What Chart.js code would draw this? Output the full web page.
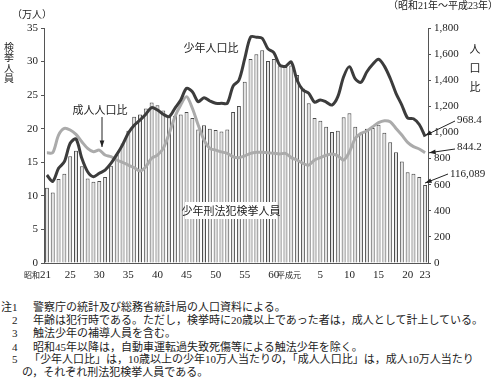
<!DOCTYPE html>
<html>
<head>
<meta charset="utf-8">
<script src="https://cdn.jsdelivr.net/npm/chart.js@4"></script>
<style>
  body { margin: 0; background: #fff; }
  #wrap { position: relative; width: 500px; height: 380px; }
  #chart { position: absolute; left: 0; top: 0; }
  .note { position: absolute; font: 11px "Liberation Serif", "Noto Sans CJK JP", serif; color: #222; white-space: nowrap; line-height: 14px; }
</style>
</head>
<body>
<div id="wrap">
  <canvas id="chart" width="500" height="290"></canvas>
  <div class="note" style="left:1px;top:300px">注1</div>
  <div class="note" style="left:33px;top:300px">警察庁の統計及び総務省統計局の人口資料による。</div>
  <div class="note" style="left:12px;top:313px">2</div>
  <div class="note" style="left:33px;top:313px">年齢は犯行時である。ただし，検挙時に20歳以上であった者は，成人として計上している。</div>
  <div class="note" style="left:12px;top:326px">3</div>
  <div class="note" style="left:33px;top:326px">触法少年の補導人員を含む。</div>
  <div class="note" style="left:12px;top:340px">4</div>
  <div class="note" style="left:33px;top:340px">昭和45年以降は，自動車運転過失致死傷等による触法少年を除く。</div>
  <div class="note" style="left:12px;top:352px">5</div>
  <div class="note" style="left:29px;top:352px">「少年人口比」は，10歳以上の少年10万人当たりの，「成人人口比」は，成人10万人当たり</div>
  <div class="note" style="left:22px;top:365px">の，それぞれ刑法犯検挙人員である。</div>
</div>
<script>
// 昭和21年～平成23年
const categories = [
  'S21','S22','S23','S24','S25','S26','S27','S28','S29','S30',
  'S31','S32','S33','S34','S35','S36','S37','S38','S39','S40',
  'S41','S42','S43','S44','S45','S46','S47','S48','S49','S50',
  'S51','S52','S53','S54','S55','S56','S57','S58','S59','S60',
  'S61','S62','S63','H1','H2','H3','H4','H5','H6','H7',
  'H8','H9','H10','H11','H12','H13','H14','H15','H16','H17',
  'H18','H19','H20','H21','H22','H23'
];

// 少年刑法犯検挙人員（万人）
const arrests = [
  11.2, 10.5, 12.5, 13.3, 15.9, 16.7, 14.4, 12.6, 12.1, 12.2,
  12.8, 14.5, 16.2, 17.8, 19.7, 21.8, 22.1, 23.0, 23.9, 23.5,
  22.7, 21.9, 21.9, 22.1, 22.5, 21.6, 19.9, 20.5, 20.0, 19.8,
  19.6, 19.9, 22.5, 23.4, 27.0, 30.4, 31.1, 31.7, 30.1, 30.4,
  29.3, 29.2, 29.4, 28.0, 26.0, 23.8, 21.6, 21.2, 20.3, 19.5,
  19.7, 21.7, 22.3, 20.3, 19.4, 20.0, 20.1, 20.6, 19.4, 18.0,
  16.5, 15.1, 13.5, 13.3, 12.8, 11.6089
];

// 少年人口比
const juvenileRate = [
  674, 625, 725, 776, 917, 950, 802, 699, 661, 687,
  712, 763, 830, 905, 995, 1055, 1095, 1140, 1190, 1172,
  1139, 1121, 1185, 1248, 1338, 1312, 1236, 1266, 1241, 1223,
  1223, 1223, 1355, 1400, 1565, 1730, 1730, 1722, 1640, 1612,
  1517, 1506, 1540, 1400, 1325, 1300, 1232, 1249, 1233, 1210,
  1274, 1427, 1504, 1411, 1384, 1465, 1522, 1561, 1508, 1415,
  1300, 1210, 1111, 1105, 1061, 968.4
];

// 成人人口比
const adultRate = [
  845, 845, 980, 1031, 1019, 985, 929, 878, 852, 865,
  827, 814, 789, 771, 750, 730, 705, 738, 802, 827,
  878, 990, 1120, 1210, 1274, 1185, 1057, 942, 878, 865,
  851, 840, 814, 807, 820, 840, 848, 848, 845, 840,
  835, 840, 807, 789, 763, 750, 789, 807, 825, 835,
  820, 789, 852, 955, 993, 1011, 1044, 1075, 1090, 1082,
  1031, 980, 924, 891, 873, 844.2
];

const tickCats = ['S21','S25','S30','S35','S40','S45','S50','S55','S60','H1','H5','H10','H15','H20','H23'];
const tickTexts = ['昭和21','25','30','35','40','45','50','55','60','平成元','5','10','15','20','23'];

const SERIF = '"Liberation Serif", "Noto Sans CJK JP", serif';
const JP = '"Noto Sans CJK JP", sans-serif';

function arrow(ctx, x1, y1, x2, y2) {
  ctx.beginPath();
  ctx.moveTo(x1, y1);
  ctx.lineTo(x2, y2);
  ctx.stroke();
  const a = Math.atan2(y2 - y1, x2 - x1);
  ctx.beginPath();
  ctx.moveTo(x2, y2);
  ctx.lineTo(x2 - 7 * Math.cos(a - 0.35), y2 - 7 * Math.sin(a - 0.35));
  ctx.lineTo(x2 - 7 * Math.cos(a + 0.35), y2 - 7 * Math.sin(a + 0.35));
  ctx.closePath();
  ctx.fill();
}

const labelsPlugin = {
  id: 'labels',
  afterDraw(chart) {
    const ctx = chart.ctx;
    const xs = chart.scales.x, y = chart.scales.y, y2 = chart.scales.y2;
    ctx.save();
    ctx.fillStyle = '#222';
    ctx.strokeStyle = '#222';
    ctx.lineWidth = 1;
    ctx.textBaseline = 'middle';

    // x tick labels (era names drawn smaller, as in the source)
    tickCats.forEach((c, k) => {
      const px = xs.getPixelForValue(categories.indexOf(c));
      const t = tickTexts[k];
      if (t === '昭和21') {
        ctx.font = '11px ' + SERIF;
        ctx.textAlign = 'right';
        ctx.fillText('21', px + 4, 275);
        const w = ctx.measureText('21').width;
        ctx.font = '8px ' + JP;
        ctx.fillText('昭和', px + 4 - w, 275);
      } else if (t === '平成元') {
        ctx.font = '8px ' + JP;
        ctx.textAlign = 'center';
        ctx.fillText(t, px - 8, 275);
      } else {
        ctx.font = '11px ' + SERIF;
        ctx.textAlign = 'center';
        ctx.fillText(t, px, 275);
      }
    });

    // axis titles
    ctx.textAlign = 'left';
    ctx.font = '10px ' + SERIF;
    ctx.fillText('（万人）', 12, 15);
    ctx.textAlign = 'right';
    ctx.fillText('（昭和21年～平成23年）', 498, 6);
    ctx.textAlign = 'center';
    ctx.font = '10px ' + JP;
    ['検', '挙', '人', '員'].forEach((ch, i) => ctx.fillText(ch, 9, 47 + i * 10.5));
    ctx.font = '11px ' + JP;
    ['人', '口', '比'].forEach((ch, i) => ctx.fillText(ch, 475, 49 + i * 19));

    // series labels
    ctx.font = '11px ' + JP;
    ctx.fillText('少年人口比', 211, 48);
    ctx.fillText('成人人口比', 100, 110);
    arrow(ctx, 102, 117, 102, 147);

    ctx.fillStyle = '#fff';
    ctx.fillRect(185, 202, 92, 17);
    ctx.fillStyle = '#222';
    ctx.fillText('少年刑法犯検挙人員', 231, 211);

    // end value callouts
    const last = categories.length - 1;
    const px = xs.getPixelForValue(last);
    ctx.font = '11px ' + SERIF;
    ctx.textAlign = 'left';
    ctx.fillText('968.4', 457, 120);
    arrow(ctx, 455, 121, px, y2.getPixelForValue(juvenileRate[last]) - 1);
    ctx.fillText('844.2', 457, 147);
    arrow(ctx, 455, 149, px + 4, y2.getPixelForValue(adultRate[last]));
    ctx.fillText('116,089', 450, 174);
    arrow(ctx, 448, 174, px, y.getPixelForValue(arrests[last]) - 2);
    ctx.restore();
  }
};

new Chart(document.getElementById('chart'), {
  data: {
    labels: categories,
    datasets: [
      { type: 'line', label: '少年人口比', data: juvenileRate, yAxisID: 'y2', borderColor: '#3c3c3c', borderWidth: 3, pointRadius: 0, tension: 0.3, order: 1 },
      { type: 'line', label: '成人人口比', data: adultRate, yAxisID: 'y2', borderColor: '#ababab', borderWidth: 3, pointRadius: 0, tension: 0.3, order: 2 },
      { type: 'bar', label: '少年刑法犯検挙人員', data: arrests, yAxisID: 'y', backgroundColor: '#e4e4e4', borderColor: '#4a4a4a', borderWidth: 1, barPercentage: 0.68, categoryPercentage: 1, order: 3 }
    ]
  },
  options: {
    responsive: false,
    animation: false,
    layout: { padding: { top: 28, left: 0, right: 0, bottom: 0 } },
    plugins: { legend: { display: false }, tooltip: { enabled: false } },
    scales: {
      x: {
        grid: { display: false },
        border: { color: '#555' },
        ticks: { display: false },
        afterFit(s) { s.height = 27; }
      },
      y: {
        position: 'left',
        min: 0, max: 35,
        ticks: { stepSize: 5, padding: 3, color: '#222', font: { family: SERIF, size: 11 } },
        grid: { drawOnChartArea: false, tickLength: 3, color: '#555' },
        border: { color: '#555' },
        afterFit(s) { s.width = 44; }
      },
      y2: {
        position: 'right',
        min: 0, max: 1800,
        ticks: { stepSize: 200, padding: 3, color: '#222', font: { family: SERIF, size: 11 },
          callback: v => v.toLocaleString('en-US') },
        grid: { drawOnChartArea: false, tickLength: 3, color: '#555' },
        border: { color: '#555' },
        afterFit(s) { s.width = 72; }
      }
    }
  },
  plugins: [labelsPlugin]
});
</script>
</body>
</html>
